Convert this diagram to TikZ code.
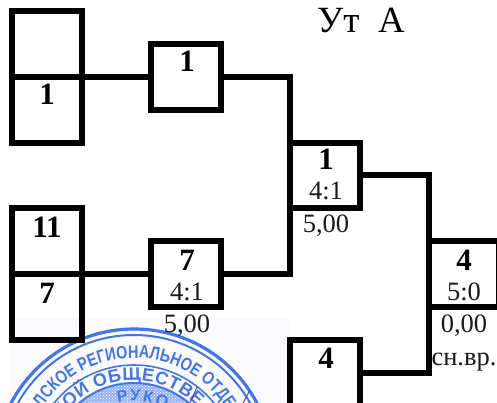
\documentclass[tikz,border=0pt]{standalone}
\usepackage{fontspec}
\setmainfont{Liberation Serif}
\newfontfamily\stampfont{Liberation Sans}
\newfontfamily\stampnarrow[FakeStretch=0.8]{Liberation Sans}
\usetikzlibrary{decorations.text,patterns}
\definecolor{stampblue}{RGB}{66,118,232}
\definecolor{stamptint}{RGB}{251,251,254}
\definecolor{inkpurple}{RGB}{90,70,190}
\newcommand{\bignum}{\fontsize{31}{33}\selectfont\bfseries}
\newcommand{\smlnum}{\fontsize{26.5}{28}\selectfont}
\newcommand{\stampa}{\stampnarrow\bfseries\fontsize{18}{19}\selectfont}
\newcommand{\stampb}{\stampfont\bfseries\fontsize{18}{19}\selectfont}
\newcommand{\stampc}{\stampfont\bfseries\fontsize{16}{17}\selectfont}
\tikzset{
  x=1pt,y=-1pt,
  box/.style={draw=black,line width=6pt,rectangle,inner sep=0pt,outer sep=0pt,minimum width=70pt,minimum height=#1,anchor=north west},
  wire/.style={draw=black,line width=6pt,line cap=rect},
  num/.style={anchor=base,inner sep=0pt,font=\bignum},
  score/.style={anchor=base,inner sep=0pt,font=\smlnum,text=black!90},
  ring/.style={draw=stampblue,line width=#1}
}
\begin{document}
\begin{tikzpicture}
\useasboundingbox (0,0) rectangle (497,403);
\clip (0,0) rectangle (497,403);
% stamp
\fill[stamptint] (10,318) rectangle (290,403);
\begin{scope}[x=1pt,y=1pt]
\coordinate (sc) at (134,-468);
\fill[stampblue!55] (sc) circle[radius=85];
\fill[pattern=crosshatch dots,pattern color=white] (sc) circle[radius=85];
\draw[ring=3.2pt] (sc) circle[radius=139];
\draw[ring=2pt] (sc) circle[radius=133];
\draw[ring=1.6pt] (sc) circle[radius=103];
\draw[ring=2pt] (sc) circle[radius=85];
\path[decoration={text along path,text align=fit to path,text color=stampblue,
   text={|\stampa|ЛСКОЕ РЕГИОНАЛЬНОЕ ОТДЕЛ}},decorate]
  (sc) ++(147:110) arc[start angle=147,end angle=27,radius=110];
\path[decoration={text along path,text align=fit to path,text color=stampblue,
   text={|\stampb|СКОЙ ОБЩЕСТВЕ}},decorate]
  (sc) ++(154:88) arc[start angle=154,end angle=44,radius=88];
\path[decoration={text along path,text align=fit to path,text color=stampblue,
   text={|\stampc|РУКО}},decorate]
  (sc) ++(104:67) arc[start angle=104,end angle=62,radius=67];
\end{scope}
\draw[inkpurple,line width=1pt] (197,387) -- (190,403);
\draw[inkpurple,line width=1pt] (250,390) -- (243,403);
% boxes
\node[box=66pt] (lt) at (12,11) {};
\node[box=66pt] (lb) at (12,77) {};
\node[box=66pt] (mt) at (151,44) {};
\node[box=65pt] (c) at (290,143) {};
\node[box=66pt] (ut) at (12,208) {};
\node[box=66pt] (ub) at (12,274) {};
\node[box=66pt] (mb) at (151,241) {};
\node[box=66pt] (f) at (429,241) {};
\node[box=66pt] (g) at (290,340) {};
% connectors
\draw[wire] (lt.south east) -- (mt.west);
\draw[wire] (ut.south east) -- (mb.west);
\draw[wire] (mt.east) -| (c.north west);
\draw[wire] (mb.east) -| (c.south west);
\draw[wire] (c.east) -| (f.north west);
\draw[wire] (g.east) -| (f.south west);
% texts
\node[num] (t1) at (47,105) {1};
\node[num] (t2) at (187,72) {1};
\node[num] (t3) at (47,237) {11};
\node[num] (t4) at (47,303) {7};
\node[num] (t5) at (187,270) {7};
\node[score] (t6) at (187,300) {4:1};
\node[score] (t7) at (187,332) {5,00};
\node[num] (t8) at (326,170) {1};
\node[score] (t9) at (326,200) {4:1};
\node[score] (t10) at (326,233) {5,00};
\node[num] (t11) at (464,270) {4};
\node[score] (t12) at (464,300) {5:0};
\node[score] (t13) at (464,332) {0,00};
\node[score] (t14) at (464,365) {сн.вр.};
\node[num] (t15) at (326,368) {4};
\node[anchor=base west,inner sep=0pt,font=\fontsize{37}{39}\selectfont] (title) at (317,33) {Ут\ \ А};
\end{tikzpicture}
\end{document}
